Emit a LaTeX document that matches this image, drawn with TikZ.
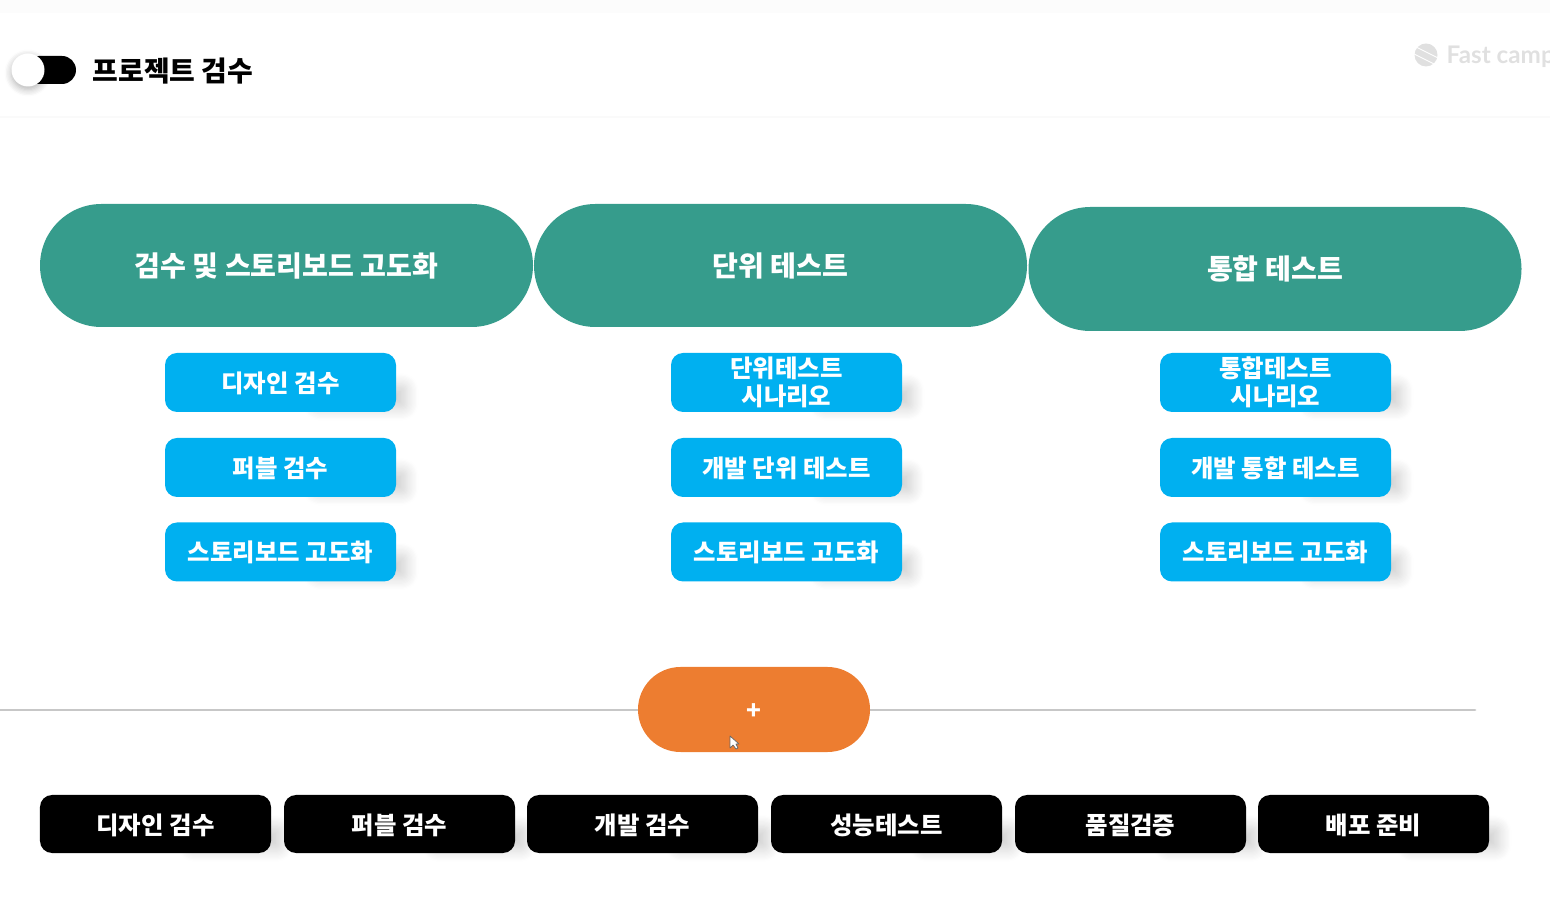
\documentclass[tikz,border=0pt]{standalone}
\usepackage{fontspec}
\setmainfont{Noto Sans CJK KR}
\newfontfamily\logofont{Lato}
\usetikzlibrary{shapes.misc,shadows.blur}
\definecolor{pillgreen}{rgb}{0.21,0.61,0.55}
\definecolor{boxblue}{rgb}{0,0.69,0.94}
\definecolor{plusorange}{rgb}{0.93,0.49,0.19}
\definecolor{logogray}{rgb}{0.88,0.88,0.88}
\tikzset{
  headpill/.style={rounded rectangle,fill=pillgreen,text=white,inner sep=0pt,minimum width=4.93cm,minimum height=1.23cm,text height=7.1pt,text depth=1pt,font=\fontsize{8}{9}\selectfont\bfseries},
  oneline/.style={text height=6.6pt,text depth=1pt},
  twoline/.style={},
  subbox/.style={rectangle,rounded corners=0.12cm,text=white,inner sep=0pt,minimum width=2.31cm,minimum height=0.59cm,align=center,font=\fontsize{6.95}{8}\selectfont\bfseries,blur shadow={shadow scale=0.4,shadow xshift=2.0cm,shadow yshift=-0.36cm,shadow blur steps=10,shadow blur radius=0.3cm,shadow opacity=18}},
  bluebox/.style={subbox,fill=boxblue},
  blackbox/.style={subbox,oneline,text height=7.1pt,fill=black}
}
\begin{document}
\begin{tikzpicture}[line cap=round,line join=round,x=1.0cm,y=1.0cm]
    \useasboundingbox (0,0) rectangle (15.5,9.12);
    \clip (0,0) rectangle (15.5,9.12);
    \fill[color=black!1] (0,8.99) rectangle (15.5,9.12);
    \draw[color=black!2] (0,7.95) -- (15.5,7.95);
    % toggle
    \fill[color=black,rounded corners=0.14cm] (0.25,8.28) rectangle (0.76,8.56);
    \node[circle,fill=white,inner sep=0pt,minimum size=0.33cm,blur shadow={shadow xshift=0cm,shadow yshift=-0.03cm,shadow blur steps=6,shadow blur radius=0.07cm,shadow opacity=30}] (knob) at (0.28,8.42) {};
    \node[anchor=west,inner sep=0pt,font=\fontsize{7.95}{8}\selectfont\bfseries] (title) at (0.92,8.41) {프로젝트 검수};
    % logo
    \fill[color=logogray] (14.26,8.57) circle (0.115);
    \foreach \s in {-0.05,0.03}
    \draw[color=white,line width=0.25pt,shift={(14.26,8.57)}] (-0.12,\s+0.06) -- (0.12,\s-0.06);
    \node[anchor=west,inner sep=0pt,text=logogray,font=\fontsize{6.9}{7}\selectfont\logofont\bfseries] (logotext) at (14.46,8.55) {Fast camp};
    % header row
    \node[headpill] (head1) at (2.865,6.465) {검수 및 스토리보드 고도화};
    \node[headpill] (head2) at (7.805,6.465) {단위 테스트};
    \node[headpill,minimum height=1.24cm] (head3) at (12.75,6.43) {통합 테스트};
    % blue boxes
    \foreach \n/\x/\o/\a/\b in {1/2.805/oneline/{디자인 검수}/{퍼블 검수},2/7.865/twoline/{단위테스트\\시나리오}/{개발 단위 테스트},3/12.755/twoline/{통합테스트\\시나리오}/{개발 통합 테스트}}
    {
      \node[bluebox,\o] (sub\n a) at (\x,5.295) {\a};
      \node[bluebox,oneline] (sub\n b) at (\x,4.445) {\b};
      \node[bluebox,oneline] (sub\n c) at (\x,3.60) {스토리보드 고도화};
    }
    % plus
    \coordinate (lineleft) at (0,2.02);
    \coordinate (lineright) at (14.75,2.02);
    \draw[color=black!22,line width=0.8pt] (lineleft) -- (lineright);
    \node[rounded rectangle,fill=plusorange,text=white,inner sep=0pt,minimum width=2.32cm,minimum height=0.85cm,text height=6.6pt,text depth=1pt,font=\fontsize{6.95}{8}\selectfont\bfseries] (plus) at (7.54,2.025) {+};
    \fill[color=white,draw=black!60,line width=0.2pt,shift={(7.30,1.76)}] (0,0) -- (0,-0.12) -- (0.03,-0.09) -- (0.06,-0.13) -- (0.08,-0.12) -- (0.06,-0.08) -- (0.09,-0.08) -- cycle;
    % black row
    \foreach \n/\x/\t in {1/1.555/{디자인 검수},2/3.995/{퍼블 검수},3/6.425/{개발 검수},4/8.865/{성능테스트},5/11.305/{품질검증},6/13.735/{배포 준비}}
    \node[blackbox,minimum height=0.58cm] (step\n) at (\x,0.88) {\t};
\end{tikzpicture}
\end{document}
